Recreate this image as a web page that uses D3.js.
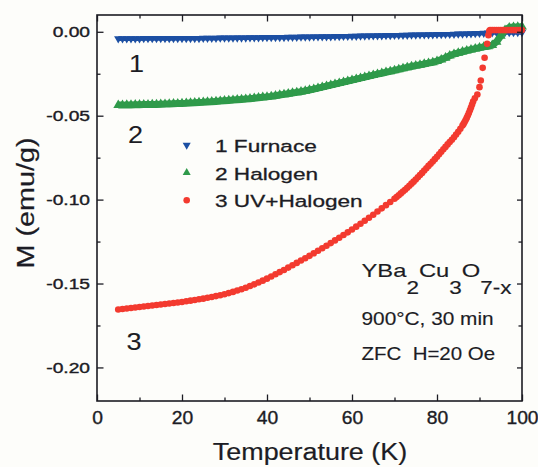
<!DOCTYPE html>
<html><head><meta charset="utf-8">
<script src="https://cdn.jsdelivr.net/npm/d3@7"></script>
<style>
html,body{margin:0;padding:0;background:#fdfdfa;}
svg{display:block;}
text{font-family:"Liberation Sans",Arial,Helvetica,sans-serif;fill:#1c1c24;}
</style>
</head><body>
<svg id="chart" width="538" height="467"></svg>
<script>
// ---------- data ----------
const tempGrid = [5,6,7,8,9,10,11,12,13,14,15,16,17,18,19,20,21,22,23,24,25,26,27,28,29,30,
31,32,33,34,35,36,37,38,39,40,41,42,43,44,45,46,47,48,49,50,51,52,53,54,55,56,57,58,59,60,
61,62,63,64,65,66,67,68,69,70,71,72,73,74,75,76,77,78,79,80,81,82,83,84,85,86,87,88,89,90,
91,92,93,94,95,96,97,98,99,100];

const furnaceM = [-0.0041,-0.0041,-0.0041,-0.0041,-0.0041,-0.0041,-0.0040,-0.0040,-0.0040,-0.0040,
-0.0040,-0.0040,-0.0040,-0.0040,-0.0039,-0.0039,-0.0039,-0.0039,-0.0039,-0.0039,
-0.0038,-0.0038,-0.0038,-0.0038,-0.0037,-0.0037,-0.0037,-0.0037,-0.0036,-0.0036,
-0.0036,-0.0035,-0.0035,-0.0035,-0.0034,-0.0034,-0.0034,-0.0033,-0.0033,-0.0033,
-0.0032,-0.0032,-0.0032,-0.0031,-0.0031,-0.0031,-0.0030,-0.0030,-0.0029,-0.0029,
-0.0029,-0.0028,-0.0028,-0.0027,-0.0027,-0.0026,-0.0026,-0.0025,-0.0025,-0.0024,
-0.0024,-0.0023,-0.0023,-0.0022,-0.0022,-0.0021,-0.0021,-0.0020,-0.0020,-0.0019,
-0.0019,-0.0018,-0.0018,-0.0017,-0.0017,-0.0016,-0.0016,-0.0015,-0.0015,-0.0014,
-0.0013,-0.0013,-0.0012,-0.0011,-0.0010,-0.0009,-0.0008,-0.0007,-0.0005,-0.0004,
-0.0004,-0.0004,-0.0004,-0.0004,-0.0004,-0.0004];

const halogenM = [-0.0437,-0.0437,-0.0436,-0.0436,-0.0435,-0.0435,-0.0434,-0.0434,-0.0433,-0.0433,
-0.0432,-0.0431,-0.0430,-0.0429,-0.0428,-0.0427,-0.0426,-0.0424,-0.0423,-0.0421,
-0.0420,-0.0418,-0.0417,-0.0415,-0.0413,-0.0411,-0.0409,-0.0407,-0.0405,-0.0403,
-0.0401,-0.0399,-0.0396,-0.0393,-0.0390,-0.0388,-0.0385,-0.0381,-0.0377,-0.0373,
-0.0369,-0.0365,-0.0361,-0.0357,-0.0352,-0.0347,-0.0342,-0.0336,-0.0330,-0.0324,
-0.0318,-0.0312,-0.0306,-0.0300,-0.0294,-0.0288,-0.0282,-0.0276,-0.0270,-0.0264,
-0.0258,-0.0252,-0.0247,-0.0241,-0.0236,-0.0230,-0.0224,-0.0218,-0.0212,-0.0207,
-0.0202,-0.0197,-0.0192,-0.0187,-0.0182,-0.0175,-0.0166,-0.0155,-0.0143,-0.0133,
-0.0126,-0.0119,-0.0112,-0.0106,-0.0100,-0.0095,-0.0090,-0.0087,-0.0080,-0.0060,
-0.0025,0.0010,0.0025,0.0028,0.0029,0.0030];

const uvTemps = [5,6,7,8,9,10,11,12,13,14,15,16,17,18,19,20,21,22,23,24,25,26,27,28,29,30,
31,32,33,34,35,36,37,38,39,40,41,42,43,44,45,46,47,48,49,50,51,52,53,54,55,56,57,58,59,60,
61,62,63,64,65,66,67,68,69,70,70.5,71,71.5,72,72.5,73,73.5,74,74.5,75,75.5,76,76.5,77,77.5,
78,78.5,79,79.5,80,80.5,81,81.5,82,82.5,83,83.5,84,84.5,85,85.5,86,86.25,86.5,86.75,87,87.25,
87.5,87.75,88,88.25,88.5,88.9,89.5,90.0,90.3,90.75,91.2,91.8,92.1,92.3,
92.5,93,93.5,94,94.5,95,95.5,96,96.5,97,97.5,98,98.5,99,99.5,100];

const uvM = [-0.1655,-0.1652,-0.1649,-0.1646,-0.1643,-0.1640,-0.1637,-0.1634,-0.1631,-0.1628,
-0.1625,-0.1622,-0.1619,-0.1616,-0.1613,-0.1610,-0.1606,-0.1602,-0.1598,-0.1594,
-0.1590,-0.1585,-0.1580,-0.1575,-0.1570,-0.1564,-0.1557,-0.1550,-0.1542,-0.1534,
-0.1525,-0.1515,-0.1505,-0.1494,-0.1483,-0.1471,-0.1458,-0.1445,-0.1432,-0.1419,
-0.1405,-0.1391,-0.1377,-0.1363,-0.1349,-0.1335,-0.1320,-0.1305,-0.1290,-0.1275,
-0.1259,-0.1243,-0.1227,-0.1211,-0.1195,-0.1178,-0.1161,-0.1144,-0.1126,-0.1108,
-0.1090,-0.1071,-0.1052,-0.1033,-0.1014,-0.0995,-0.0985,-0.0974,-0.0963,-0.0952,
-0.0941,-0.0929,-0.0917,-0.0905,-0.0893,-0.0880,-0.0867,-0.0854,-0.0841,-0.0827,
-0.0813,-0.0799,-0.0786,-0.0773,-0.0759,-0.0745,-0.0730,-0.0715,-0.0700,-0.0686,
-0.0671,-0.0657,-0.0643,-0.0628,-0.0612,-0.0596,-0.0578,-0.0559,-0.0549,-0.0538,
-0.0526,-0.0513,-0.0499,-0.0484,-0.0468,-0.0451,-0.0434,-0.0416,-0.0396,-0.0374,
-0.0330,-0.0290,-0.0215,-0.0155,-0.0072,-0.0020,0.0005,
0.0010,0.0010,0.0010,0.0010,0.0010,0.0010,0.0010,0.0010,0.0010,0.0010,0.0010,0.0010,
0.0010,0.0010,0.0010,0.0010];

const xMajorTicks = [0,20,40,60,80,100];
const xMinorTicks = [10,30,50,70,90];
const yMajorTicks = [0,-0.05,-0.10,-0.15,-0.20];
const yMinorTicks = [-0.025,-0.075,-0.125,-0.175];
const seriesNames = ["1 Furnace","2 Halogen","3 UV+Halogen"];
const curveLabels = ["1","2","3"];
const xTitle = "Temperature (K)";
const yTitle = "M (emu/g)";

// ---------- drawing ----------
const colors = ["#1c4fa3","#2f9a4a","#f33a2f"];
const ink = "#1c1c24";
const svg = d3.select("#chart");
const pL = 97, pR = 522, pT = 15, pB = 401;
const x = d3.scaleLinear([0,100],[pL,pR]);
const y = d3.scaleLinear([-0.22,0.01],[pB,pT]);

const plot = svg.append("g");
const line = d3.line();

function drawTriangles(temps, vals, color, down, size, bandW){
  const pts = temps.map((t,i)=>[x(t), y(vals[i])]);
  plot.append("path").attr("d", line(pts)).attr("fill","none")
    .attr("stroke",color).attr("stroke-width",bandW).attr("stroke-linejoin","round");
  const sym = d3.symbol().type(d3.symbolTriangle).size(size)();
  plot.append("g").selectAll("path").data(pts).join("path")
    .attr("d", sym)
    .attr("transform",p=>`translate(${p[0]},${p[1]})${down?" rotate(180)":""}`)
    .attr("fill", color);
}
drawTriangles(tempGrid, furnaceM, colors[0], true, 30, 4.5);
drawTriangles(tempGrid, halogenM, colors[1], false, 42, 7);
plot.append("g").selectAll("circle").data(uvTemps).join("circle")
  .attr("cx", t=>x(t)).attr("cy",(t,i)=>y(uvM[i])).attr("r",3.3)
  .attr("fill", colors[2]);

// axes
function styleAxis(g){
  g.select(".domain").remove();
  g.selectAll(".tick line").attr("stroke", ink).attr("stroke-width",1.3);
}
const gB = svg.append("g").attr("transform",`translate(0,${pB})`)
  .call(d3.axisBottom(x).tickValues(xMajorTicks).tickSizeInner(-6.5).tickSizeOuter(0).tickPadding(11).tickFormat(d3.format("d")));
styleAxis(gB);
gB.selectAll(".tick text").attr("font-size",17.5).attr("fill",ink)
  .attr("stroke",ink).attr("stroke-width",0.35)
  .attr("font-family",'"Liberation Sans",Arial,sans-serif').attr("transform","scale(1.1,1)");
svg.append("g").attr("transform",`translate(0,${pB})`)
  .call(d3.axisBottom(x).tickValues(xMinorTicks).tickSizeInner(-3.5).tickSizeOuter(0).tickFormat(""))
  .call(styleAxis);
svg.append("g").attr("transform",`translate(0,${pT})`)
  .call(d3.axisTop(x).tickValues(xMajorTicks).tickSizeInner(-6.5).tickSizeOuter(0).tickFormat(""))
  .call(styleAxis);
svg.append("g").attr("transform",`translate(0,${pT})`)
  .call(d3.axisTop(x).tickValues(xMinorTicks).tickSizeInner(-3.5).tickSizeOuter(0).tickFormat(""))
  .call(styleAxis);

const ySx = 1.24;
const gL = svg.append("g").attr("transform",`translate(${pL},0)`)
  .call(d3.axisLeft(y).tickValues(yMajorTicks).tickSizeInner(-6.5).tickSizeOuter(0).tickPadding(7).tickFormat(d=>d.toFixed(2)));
styleAxis(gL);
gL.selectAll(".tick text").attr("font-size",15.5).attr("fill",ink)
  .attr("stroke",ink).attr("stroke-width",0.4)
  .attr("font-family",'"Liberation Sans",Arial,sans-serif')
  .attr("x",-7/ySx).attr("transform",`scale(${ySx},1)`);
svg.append("g").attr("transform",`translate(${pL},0)`)
  .call(d3.axisLeft(y).tickValues(yMinorTicks).tickSizeInner(-3.5).tickSizeOuter(0).tickFormat(""))
  .call(styleAxis);
svg.append("g").attr("transform",`translate(${pR},0)`)
  .call(d3.axisRight(y).tickValues(yMajorTicks).tickSizeInner(-5).tickSizeOuter(0).tickFormat(""))
  .call(styleAxis);
svg.append("g").attr("transform",`translate(${pR},0)`)
  .call(d3.axisRight(y).tickValues(yMinorTicks).tickSizeInner(-3.5).tickSizeOuter(0).tickFormat(""))
  .call(styleAxis);

// frame
svg.append("rect").attr("x",pL).attr("y",pT).attr("width",pR-pL).attr("height",pB-pT)
  .attr("fill","none").attr("stroke",ink).attr("stroke-width",1.6);

// helper for horizontally stretched text
function label(txt, tx, ty, size, sx, anchor, sw){
  return svg.append("text").text(txt)
    .attr("transform",`translate(${tx},${ty}) scale(${sx},1)`)
    .attr("font-size",size).attr("text-anchor",anchor||"start")
    .attr("stroke",ink).attr("stroke-width",sw||0.2)
    .style("white-space","pre");
}

// axis titles
label(xTitle, 310, 460, 23, 1.17, "middle", 0.2);
svg.append("text").text(yTitle)
  .attr("transform","translate(33.5,203) rotate(-90) scale(1.25,1)")
  .attr("font-size",23).attr("text-anchor","middle")
  .attr("stroke",ink).attr("stroke-width",0.2);

// curve labels
const curveLabelPos = [[136.5,71.5],[135.5,143],[134,350]];
curveLabels.forEach((c,i)=>label(c, curveLabelPos[i][0], curveLabelPos[i][1], 23.5, 1.15, "middle", 0.1));

// legend
const legRowY = [145,172.7,200.2];
const legTri = d3.symbol().type(d3.symbolTriangle).size(28)();
seriesNames.forEach((name,i)=>{
  if(i===2){
    svg.append("circle").attr("cx",186.7).attr("cy",legRowY[i]).attr("r",3.3).attr("fill",colors[i]);
  } else {
    svg.append("path").attr("d",legTri)
      .attr("transform",`translate(186.7,${legRowY[i]})${i===0?" rotate(180)":""}`)
      .attr("fill",colors[i]);
  }
  label(name, 215, legRowY[i]+6.8, 17, 1.33, "start", 0.3);
});

// annotation
const formula = svg.append("text")
  .attr("transform","translate(361.5,277) scale(1.25,1)")
  .attr("font-size",19).attr("stroke",ink).attr("stroke-width",0.15);
const parts = [["YBa",0],["2",1],["Cu",0],["3",1],["O",0],["7-x",1]];
let sub = false;
parts.forEach(([t,s])=>{
  const ts = formula.append("tspan").text(t);
  if(s){ ts.attr("font-size",18); }
  if(s && !sub){ ts.attr("dy",17.5); sub=true; }
  else if(!s && sub){ ts.attr("dy",-17.5); sub=false; }
});
label("900°C, 30 min", 361.5, 325, 17.5, 1.19, "start", 0.15);
label("ZFC  H=20 Oe", 361.5, 360, 17.5, 1.17, "start", 0.15);
</script>
</body></html>
